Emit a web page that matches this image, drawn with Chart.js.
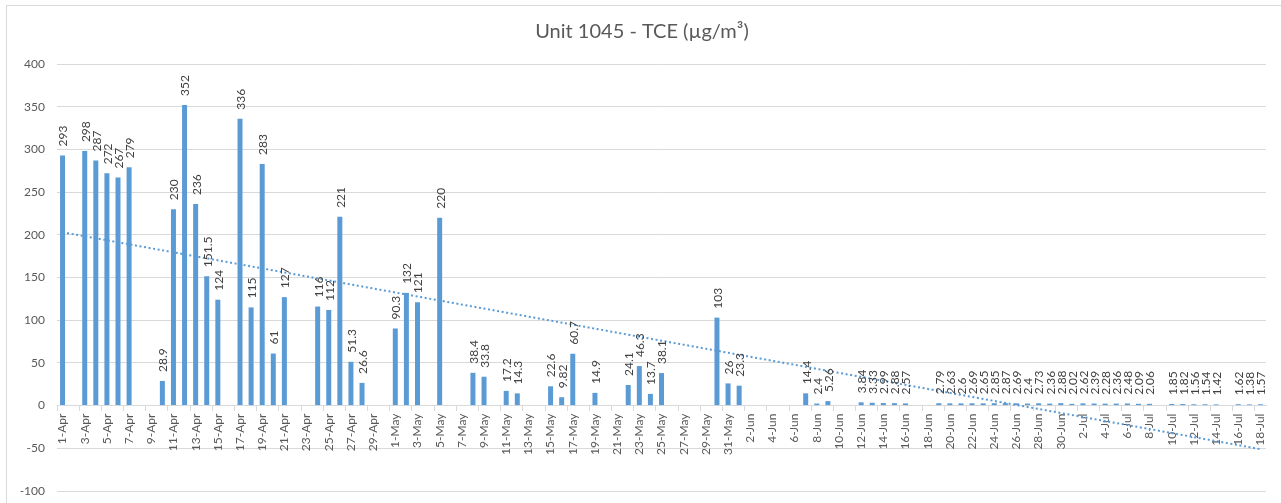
<!DOCTYPE html>
<html>
<head>
<meta charset="utf-8">
<script src="https://cdn.jsdelivr.net/npm/chart.js@4.4.1/dist/chart.umd.min.js"></script>
<style>
  html, body { margin: 0; padding: 0; background: #ffffff; overflow: hidden; }
  #wrap { position: relative; width: 1281px; height: 503px; }
  #frame { position: absolute; left: 6px; top: 5px; width: 1300px; height: 520px; border: 1px solid #d9d9d9; box-sizing: border-box; }
  canvas { position: absolute; left: 0; top: 0; }
</style>
</head>
<body>
<div id="wrap">
  <div id="frame"></div>
  <canvas id="c" width="1281" height="503"></canvas>
</div>
<script>
// ---- Data ----
const chartTitle = 'Unit 1045 - TCE (µg/m³)';

// Month names and day counts spanned by the category axis (1-Apr .. 18-Jul)
const months = ['Apr', 'May', 'Jun', 'Jul'];
const monthDays = [30, 31, 30, 18];

// TCE concentration per day (null = no sample)
const tceValues = [
  293, null, 298, 287, 272, 267, 279, null, null, 28.9,      // 1-10 Apr
  230, 352, 236, 151.5, 124, null, 336, 115, 283, 61,         // 11-20 Apr
  127, null, null, 116, 112, 221, 51.3, 26.6, null, null,     // 21-30 Apr
  90.3, 132, 121, null, 220, null, null, 38.4, 33.8, null,    // 1-10 May
  17.2, 14.3, null, null, 22.6, 9.82, 60.7, null, 14.9, null, // 11-20 May
  null, 24.1, 46.3, 13.7, 38.1, null, null, null, null, 103,  // 21-30 May
  26,                                                          // 31 May
  23.3, null, null, null, null, null, 14.4, 2.4, 5.26, null,  // 1-10 Jun
  null, 3.84, 3.33, 2.99, 2.88, 2.57, null, null, 2.79, 2.63, // 11-20 Jun
  2.6, 2.69, 2.65, 2.85, 2.87, 2.69, 2.4, 2.73, 2.36, 2.88,   // 21-30 Jun
  2.02, 2.62, 2.39, 2.28, 2.36, 2.48, 2.09, 2.06, null, 1.85, // 1-10 Jul
  1.82, 1.56, 1.54, 1.42, null, 1.62, 1.38, 1.57              // 11-18 Jul
];

// Linear trendline end points
const trendStart = 203;
const trendEnd = -51;

// Y axis
const yMin = -100, yMax = 400, yStep = 50;

// ---- Build categories ----
const categories = [];
months.forEach((m, mi) => {
  for (let d = 1; d <= monthDays[mi]; d++) categories.push(d + '-' + m);
});

const trendData = categories.map((_, i) => i === 0 ? trendStart : (i === categories.length - 1 ? trendEnd : null));

const FONT = 'Lato, "Liberation Sans", Arial, sans-serif';
const barColor = '#5b9bd5';

const valueLabels = {
  id: 'valueLabels',
  afterDatasetsDraw(chart) {
    const meta = chart.getDatasetMeta(0);
    const ctx = chart.ctx;
    ctx.save();
    ctx.font = '12px ' + FONT;
    ctx.fillStyle = '#404040';
    ctx.textAlign = 'left';
    ctx.textBaseline = 'middle';
    meta.data.forEach((bar, i) => {
      const v = chart.data.datasets[0].data[i];
      if (v === null || v === undefined) return;
      ctx.save();
      ctx.translate(bar.x + 1, bar.y - 9);
      ctx.rotate(-Math.PI / 2);
      ctx.fillText(String(v), 0, 0);
      ctx.restore();
    });
    ctx.restore();
  }
};

new Chart(document.getElementById('c'), {
  type: 'bar',
  data: {
    labels: categories,
    datasets: [
      {
        type: 'bar',
        label: 'TCE',
        data: tceValues,
        backgroundColor: barColor,
        borderWidth: 0,
        categoryPercentage: 1,
        barPercentage: 0.45,
        order: 2
      },
      {
        type: 'line',
        label: 'Trend',
        data: trendData,
        spanGaps: true,
        borderColor: barColor,
        borderWidth: 2,
        borderDash: [2, 2.6],
        pointRadius: 0,
        fill: false,
        order: 1
      }
    ]
  },
  options: {
    responsive: false,
    animation: false,
    layout: { padding: { left: 18, right: 15, top: 0, bottom: 12 } },
    plugins: {
      legend: { display: false },
      tooltip: { enabled: false },
      title: {
        display: true,
        text: chartTitle,
        color: '#595959',
        font: { family: FONT, size: 20, weight: 'normal' },
        padding: { top: 20, bottom: 20 }
      }
    },
    scales: {
      x: {
        position: { y: 0 },
        offset: true,
        grid: {
          offset: true,
          drawOnChartArea: false,
          drawTicks: true,
          tickLength: 5,
          color: (c) => (c.index % 2 === 0 ? '#d9d9d9' : 'rgba(0,0,0,0)')
        },
        border: { display: true, color: '#d9d9d9', width: 1 },
        ticks: {
          autoSkip: false,
          minRotation: 90,
          maxRotation: 90,
          padding: 3,
          color: '#595959',
          font: { family: FONT, size: 12 },
          callback: function (val, idx) { return idx % 2 === 0 ? this.getLabelForValue(val) : ''; }
        },
        afterFit: (s) => { s.height = 0; }
      },
      y: {
        min: yMin,
        max: yMax,
        ticks: {
          stepSize: yStep,
          color: '#595959',
          font: { family: FONT, size: 12 },
          padding: 0
        },
        grid: { color: '#d9d9d9', drawTicks: true, tickLength: 12, tickColor: 'rgba(0,0,0,0)', lineWidth: 1 },
        border: { display: false },
        afterFit: (s) => { s.width = 39; }
      }
    }
  },
  plugins: [valueLabels]
});
</script>
</body>
</html>
